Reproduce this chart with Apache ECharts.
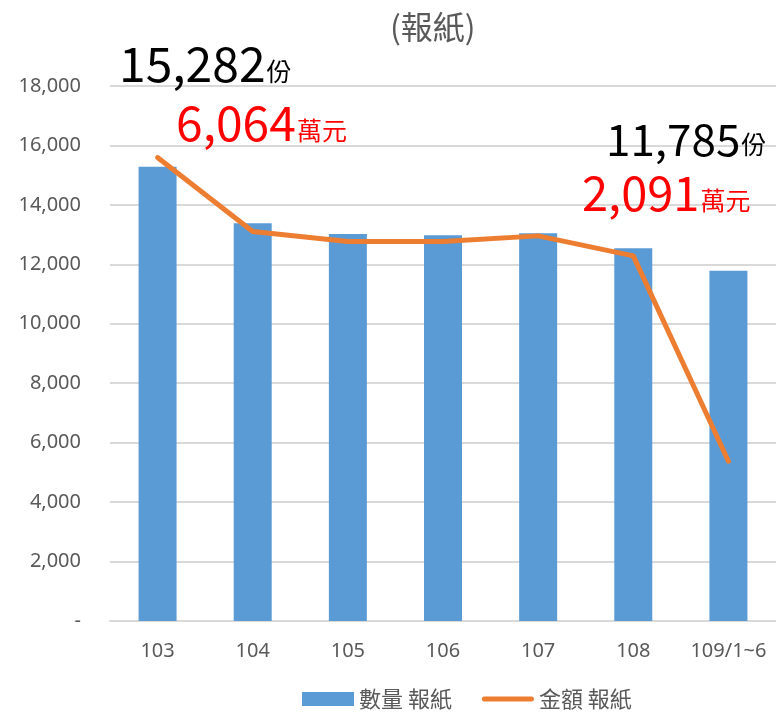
<!DOCTYPE html>
<html>
<head>
<meta charset="utf-8">
<script src="https://cdn.jsdelivr.net/npm/echarts@6/dist/echarts.min.js"></script>
<style>
  html, body { margin: 0; padding: 0; background: #fff; }
  #chart { width: 776px; height: 715px; }
</style>
</head>
<body>
<div id="chart"></div>
<script>
// 年度
var categories = ["103", "104", "105", "106", "107", "108", "109/1~6"];
// 數量 (份)
var qtyData = [15282, 13380, 13020, 12980, 13050, 12540, 11785];
// 金額 (萬元)
var amtData = [6064, 5096, 4965, 4965, 5039, 4778, 2091];

var cjk = "'Noto Sans CJK TC', sans-serif";
var latin = "'Noto Sans', 'Noto Sans CJK TC', sans-serif";
var fmt = function (v) { return v.toLocaleString("en-US"); };

var myChart = echarts.init(document.getElementById("chart"));

// 圖上的大字註記
function note(x, y, num, unit, color, size) {
  return {
    type: "text",
    left: x,
    top: y,
    z: 10,
    style: {
      text: "{a|" + num + "}{b|" + unit + "}",
      rich: {
        a: { fontSize: size, fill: color, fontFamily: cjk, verticalAlign: "bottom" },
        b: { fontSize: 25, fill: color, fontFamily: cjk, verticalAlign: "bottom", padding: [0, 0, 4, 1] }
      }
    }
  };
}

var option = {
  animation: false,
  title: {
    text: "(報紙)",
    left: 385,
    top: 6,
    textStyle: { fontSize: 32, fontWeight: "normal", color: "#595959", fontFamily: cjk }
  },
  grid: { left: 110, top: 86, width: 670, bottom: 94 },
  legend: {
    bottom: 0,
    left: 297,
    itemWidth: 52,
    itemHeight: 14,
    itemGap: 30,
    textStyle: { fontSize: 22, color: "#595959", fontFamily: cjk },
    data: [
      { name: "數量 報紙", icon: "rect" },
      { name: "金額 報紙", icon: "path://M2.5,0 H49.5 A2.5,2.5 0 0 1 49.5,5 H2.5 A2.5,2.5 0 0 1 2.5,0 Z" }
    ]
  },
  xAxis: {
    type: "category",
    data: categories,
    axisLine: { lineStyle: { color: "#d9d9d9", width: 2 } },
    axisTick: { show: false },
    axisLabel: { interval: 0, fontSize: 20, color: "#595959", margin: 20, fontFamily: latin }
  },
  yAxis: [
    {
      type: "value",
      min: 0,
      max: 18000,
      interval: 2000,
      axisLine: { show: false },
      axisTick: { show: false },
      splitLine: { lineStyle: { color: "#d9d9d9", width: 2 } },
      axisLabel: {
        fontSize: 20,
        color: "#595959",
        margin: 29,
        fontFamily: latin,
        formatter: function (v) { return v === 0 ? "-" : fmt(v); }
      }
    },
    {
      type: "value",
      min: 0,
      max: 7000,
      show: false,
      splitLine: { show: false }
    }
  ],
  series: [
    {
      name: "數量 報紙",
      type: "bar",
      data: qtyData,
      barWidth: 38,
      itemStyle: { color: "#5b9bd5" }
    },
    {
      name: "金額 報紙",
      type: "line",
      yAxisIndex: 1,
      data: amtData,
      symbol: "none",
      lineStyle: { color: "#ed7d31", width: 5, cap: "round", join: "round" },
      itemStyle: { color: "#ed7d31" }
    }
  ],
  graphic: {
    elements: [
      note(119, 40, fmt(qtyData[0]), "份", "#000", 48),
      note(176, 99, fmt(amtData[0]), "萬元", "#ff0000", 48),
      note(606, 117, fmt(qtyData[6]), "份", "#000", 44),
      note(582, 170, fmt(amtData[6]), "萬元", "#ff0000", 47)
    ]
  }
};

myChart.setOption(option);
</script>
</body>
</html>
